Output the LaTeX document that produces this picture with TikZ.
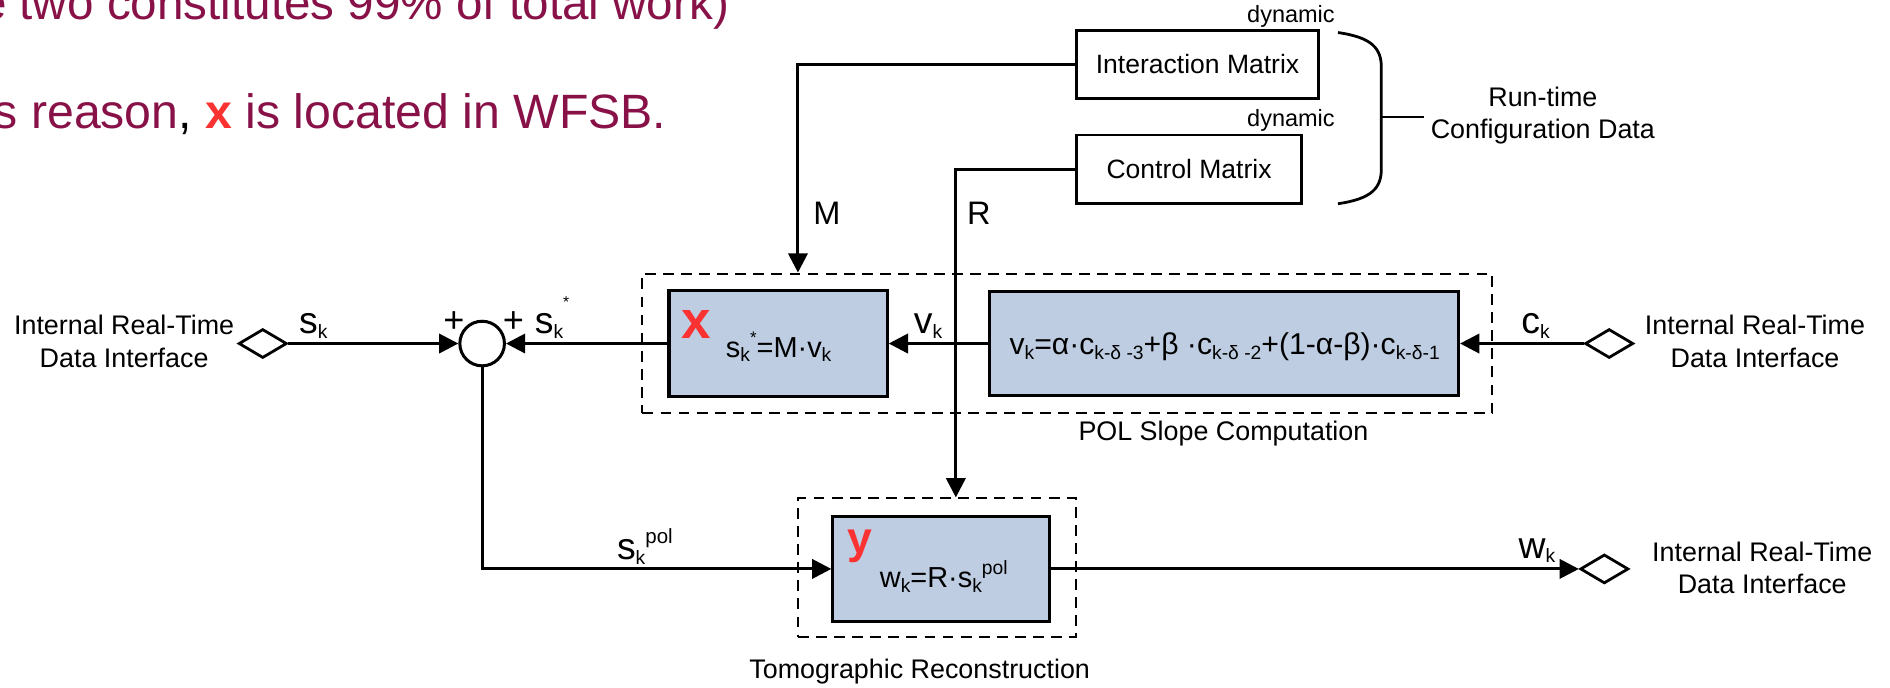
\documentclass[tikz,border=0pt]{standalone}
\usepackage{fontspec}
\setmainfont{Liberation Sans}
\usetikzlibrary{arrows.meta,shapes.geometric,calc}
\definecolor{maroon}{RGB}{136,18,72}
\definecolor{xred}{RGB}{250,50,50}
\definecolor{boxblue}{RGB}{190,205,225}
\newcommand{\fs}[1]{\fontsize{#1}{#1}\selectfont}
\newcommand{\lo}[1]{\raisebox{-4pt}{\fs{16}#1}}
\newcommand{\sig}[2]{{\fs{31}#1}\raisebox{-4pt}{\fs{16}#2}}
\begin{document}
\begin{tikzpicture}[x=1pt,y=-1pt,
  lab/.style={font=\fontsize{22.3}{27}\selectfont, inner sep=0pt, align=center},
  conn/.style={line width=2.5pt, -{Triangle[length=16pt,width=16pt]}},
  fbox/.style={draw, line width=2.6pt, fill=boxblue, inner sep=0pt},
  wbox/.style={draw, line width=2.3pt, inner sep=0pt, font=\fs{22}},
  dbox/.style={draw, line width=1.7pt, dash pattern=on 9pt off 6pt, inner sep=0pt},
  port/.style={diamond, draw, line width=2.3pt, minimum width=40pt, minimum height=24pt, inner sep=0pt, fill=white},
  sig/.style={inner sep=0pt, anchor=base}]
\fill[white] (0,0) rectangle (1568,570);
\useasboundingbox (0,0) rectangle (1568,570);
% top text
\node[anchor=base east, text=maroon, font=\fs{39.5}, inner sep=0pt] (t1) at (605,16) {e two constitutes 99\% of total work)};
\node[anchor=base east, text=maroon, font=\fs{40}, inner sep=0pt] (t2) at (553,107) {s reason\textcolor{black}{,} \textcolor{xred}{\textbf{x}} is located in WFSB.};
% dashed groups
\node[dbox, minimum width=705pt, minimum height=116pt] (polbox) at (885.5,285) {};
\node[dbox, minimum width=231pt, minimum height=115pt] (tomobox) at (777.5,471) {};
\node[lab] (pollab) at (1015,360) {POL Slope Computation};
\node[lab] (tomolab) at (763,557) {Tomographic Reconstruction};
% config boxes
\node[wbox, minimum width=201pt, minimum height=57pt] (imbox) at (993.5,53.5) {Interaction Matrix};
\node[wbox, minimum width=187pt, minimum height=57pt] (cmbox) at (986.5,140.5) {Control Matrix};
\node[font=\fs{19.5}, inner sep=0pt] (dyn1) at (1071,14) {dynamic};
\node[font=\fs{19.5}, inner sep=0pt] (dyn2) at (1071,100) {dynamic};
\node[lab] (cfg) at (1280,96) {Run-time\\Configuration Data};
\draw[line width=2.3pt] (1110,27) .. controls (1138,31) and (1146,40) .. (1146,56) -- (1146,140) .. controls (1146,156) and (1138,165) .. (1110,169);
\draw[line width=2.3pt] (1146,97) -- (1181,97);
% processing boxes
\node[fbox, minimum width=181pt, minimum height=88pt] (xbox) at (645.5,285) {};
\node[inner sep=0pt, font=\fs{24}] (xform) at (646,288) {s\lo{k}\raisebox{11pt}{\fs{14}*}=M·v\lo{k}};
\node[inner sep=0pt, font=\bfseries\fs{44}, text=xred] (xmark) at (577.5,269.5) {x};
\node[fbox, minimum width=389pt, minimum height=86pt] (vbox) at (1015.5,285) {};
\node[inner sep=0pt, font=\fs{25}] (vform) at (1016,288) {v\lo{k}=α·c\lo{k-δ -3}+β ·c\lo{k-δ -2}+(1-α-β)·c\lo{k-δ-1}};
\node[fbox, minimum width=180pt, minimum height=87pt] (ybox) at (781,472) {};
\node[inner sep=0pt, font=\fs{24}] (yform) at (783,478) {w\lo{k}=R·s\lo{k}\raisebox{11pt}{\fs{16}pol}};
\node[inner sep=0pt, font=\bfseries\fs{37}, text=xred] (ymark) at (713.5,453) {y};
% ports and labels
\node[lab] (llab) at (103,283) {Internal Real-Time\\Data Interface};
\node[lab] (rlab) at (1456,283) {Internal Real-Time\\Data Interface};
\node[lab] (olab) at (1462,471) {Internal Real-Time\\Data Interface};
\node[port] (ldiam) at (218,285) {};
\node[port] (rdiam) at (1335,285) {};
\node[port] (odiam) at (1331,472) {};
\node[circle, draw, line width=2.5pt, minimum size=37pt, inner sep=0pt] (sum) at (400,285) {};
\coordinate (mx) at (662,54);
\coordinate (rx) at (793,140);
% connectors
\draw[conn] (ldiam.east) -- (sum.west);
\draw[conn] (xbox.west) -- (sum.east);
\draw[conn] (vbox.west) -- (xbox.east);
\draw[conn] (rdiam.west) -- (vbox.east);
\draw[conn] (sum.south) |- (ybox.west);
\draw[conn] (ybox.east) -- (odiam.west);
\draw[conn] (imbox.west) -| (mx |- polbox.north);
\draw[conn] (cmbox.west) -| (rx |- tomobox.north);
% signal labels
\node[sig] (sk) at (260,277) {\sig{s}{k}};
\node[inner sep=0pt, font=\fs{30}] (p1) at (376.5,267.5) {+};
\node[inner sep=0pt, font=\fs{30}] (p2) at (426,267.5) {+};
\node[sig] (sks) at (458,277) {\sig{s}{k}\raisebox{22pt}{\fs{13}*}};
\node[sig] (vk) at (770,277) {\sig{v}{k}};
\node[sig] (ck) at (1274,277) {\sig{c}{k}};
\node[sig] (skp) at (535,464) {\sig{s}{k}\raisebox{13pt}{\fs{17}pol}};
\node[sig] (wk) at (1275,463) {\sig{w}{k}};
\node[inner sep=0pt, font=\fs{27}] (mlab) at (686,177) {M};
\node[inner sep=0pt, font=\fs{27}] (rlab2) at (812,177) {R};
\end{tikzpicture}
\end{document}
